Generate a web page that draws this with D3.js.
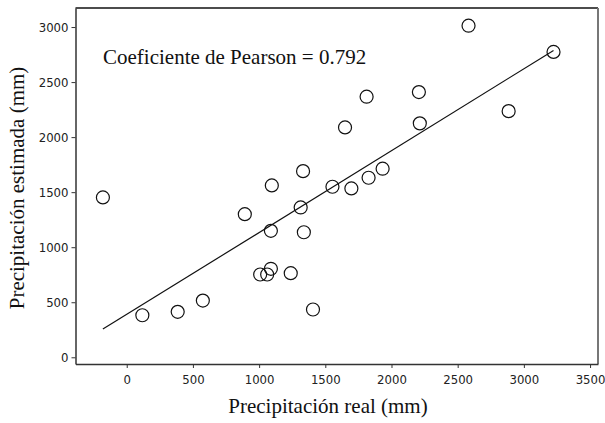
<!DOCTYPE html>
<html>
<head>
<meta charset="utf-8">
<script src="https://cdn.jsdelivr.net/npm/d3@7"></script>
<style>
  body { margin: 0; background: #fff; }
  .tick text { font-family: "DejaVu Sans Condensed", "DejaVu Sans", sans-serif; font-size: 13px; fill: #222; }
  .lbl { font-family: "Liberation Serif", "Times New Roman", serif; font-size: 21px; fill: #111; }
</style>
</head>
<body>
<svg width="605" height="423"></svg>
<script>
// precipitacion real (mm)
const realMm = [-180, 118, 385, 575, 892, 1008, 1061, 1089, 1089, 1096, 1239, 1314,
                1332, 1338, 1407, 1554, 1649, 1697, 1812, 1827, 1933, 2207, 2214, 2582, 2885, 3224];
// precipitacion estimada (mm)
const estMm = [1452, 382, 413, 515, 1300, 752, 752, 804, 1149, 1561, 764, 1361,
               1691, 1136, 434, 1549, 2088, 1534, 2367, 1631, 1713, 2409, 2125, 3012, 2236, 2774];
const xTicks = [0, 500, 1000, 1500, 2000, 2500, 3000, 3500];
const yTicks = [0, 500, 1000, 1500, 2000, 2500, 3000];
const pearson = "0.792";

const svg = d3.select("svg");
const mLeft = 75.5, mRight = 598, mTop = 8, mBottom = 364;

const x = d3.scaleLinear().domain([-387, 3560]).range([mLeft, mRight]);
const y = d3.scaleLinear().domain([-61, 3173]).range([mBottom, mTop]);

// marco (arriba / derecha)
svg.append("line").attr("x1", mLeft).attr("x2", mRight).attr("y1", mTop).attr("y2", mTop)
  .attr("stroke", "#111").attr("stroke-width", 1.5);
svg.append("line").attr("x1", mRight).attr("x2", mRight).attr("y1", mTop).attr("y2", mBottom)
  .attr("stroke", "#777").attr("stroke-width", 2);

const xAxis = svg.append("g").attr("transform", `translate(0,${mBottom})`)
  .call(d3.axisBottom(x).tickValues(xTicks).tickFormat(d3.format("d"))
    .tickSize(4).tickPadding(7).tickSizeOuter(0));
const yAxis = svg.append("g").attr("transform", `translate(${mLeft},0)`)
  .call(d3.axisLeft(y).tickValues(yTicks).tickFormat(d3.format("d"))
    .tickSize(4).tickPadding(3).tickSizeOuter(0));
[xAxis, yAxis].forEach(g => {
  g.select(".domain").attr("stroke", "#333").attr("stroke-width", 1.5);
  g.selectAll(".tick line").attr("stroke", "#333");
});

// regresion lineal
const pts = realMm.map((v, i) => [v, estMm[i]]);
const mx = d3.mean(realMm), my = d3.mean(estMm);
const slope = d3.sum(pts, p => (p[0] - mx) * (p[1] - my)) / d3.sum(pts, p => (p[0] - mx) ** 2);
const icpt = my - slope * mx;
const ext = d3.extent(realMm);
svg.append("line")
  .attr("x1", x(ext[0])).attr("y1", y(icpt + slope * ext[0]))
  .attr("x2", x(ext[1])).attr("y2", y(icpt + slope * ext[1]))
  .attr("stroke", "#111").attr("stroke-width", 1.2);

svg.append("g").selectAll("circle")
  .data(pts)
  .join("circle")
  .attr("cx", d => x(d[0]))
  .attr("cy", d => y(d[1]))
  .attr("r", 6.5)
  .attr("fill", "none")
  .attr("stroke", "#111")
  .attr("stroke-width", 1.2);

svg.append("text").attr("class", "lbl").attr("x", 103).attr("y", 64)
  .text("Coeficiente de Pearson = " + pearson);
svg.append("text").attr("class", "lbl").attr("x", 328).attr("y", 413)
  .attr("text-anchor", "middle").text("Precipitación real (mm)");
svg.append("text").attr("class", "lbl").attr("text-anchor", "middle")
  .attr("transform", "translate(24,188) rotate(-90)")
  .text("Precipitación estimada (mm)");
</script>
</body>
</html>
